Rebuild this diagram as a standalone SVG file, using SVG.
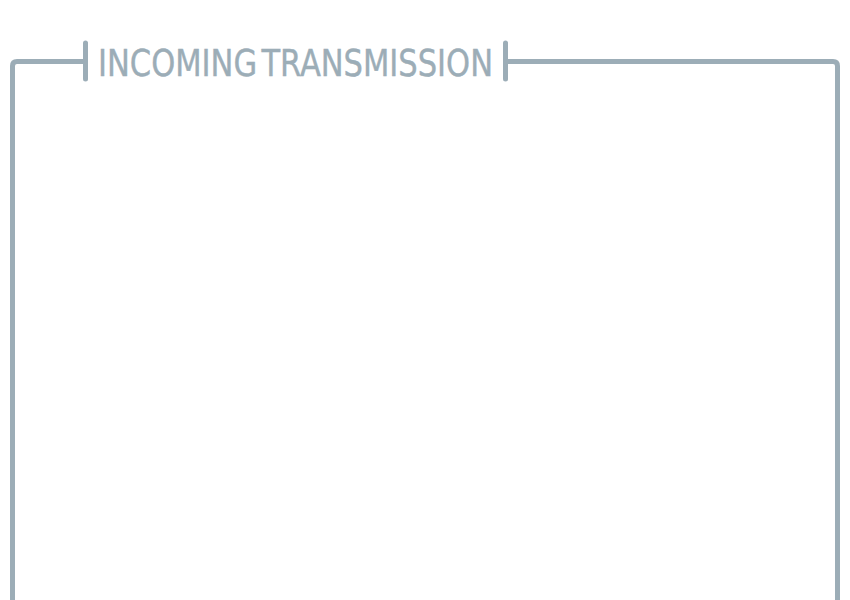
<svg xmlns="http://www.w3.org/2000/svg" width="850" height="600" viewBox="0 0 850 600">
<style>
.frame{fill:none;stroke:#9cadb7;stroke-width:5;stroke-linecap:round;stroke-linejoin:round}
.title{fill:#9cadb7;stroke:#9cadb7;stroke-width:0.4;font-family:"DejaVu Sans","Liberation Sans",sans-serif;font-stretch:condensed;font-size:38px;word-spacing:-6px}
</style>
<rect width="850" height="600" fill="#ffffff"/>
<g id="frame">
<path class="frame" d="M12.5,605 V66 Q12.5,61.5 17,61.5 H85.5"/>
<path class="frame" d="M505.5,61.5 H833 Q837.5,61.5 837.5,66 V605"/>
<line class="frame" x1="85.5" y1="43" x2="85.5" y2="79"/>
<line class="frame" x1="505.5" y1="43" x2="505.5" y2="79"/>
</g>
<g id="title">
<text class="title" x="98" y="75.5" textLength="395" lengthAdjust="spacingAndGlyphs">INCOMING TRANSMISSION</text>
</g>
</svg>
